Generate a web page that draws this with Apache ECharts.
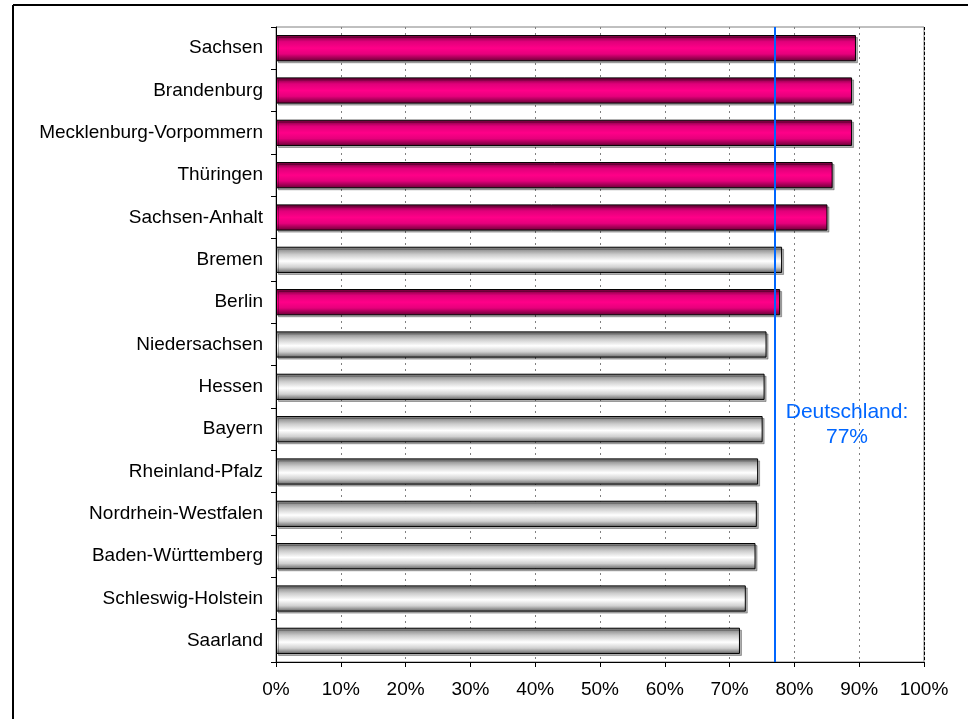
<!DOCTYPE html>
<html>
<head>
<meta charset="utf-8">
<script src="https://cdn.jsdelivr.net/npm/echarts@6/dist/echarts.min.js"></script>
<style>
html,body{margin:0;padding:0;background:#fff;}
#chart{width:968px;height:719px;}
</style>
</head>
<body>
<div id="chart"></div>
<script>
var categories = ['Sachsen','Brandenburg','Mecklenburg-Vorpommern','Thüringen','Sachsen-Anhalt','Bremen','Berlin','Niedersachsen','Hessen','Bayern','Rheinland-Pfalz','Nordrhein-Westfalen','Baden-Württemberg','Schleswig-Holstein','Saarland'];
var values = [89.5, 88.9, 88.9, 85.9, 85.1, 78.1, 77.8, 75.7, 75.4, 75.1, 74.4, 74.2, 74.0, 72.5, 71.6];
var eastStates = ['Sachsen','Brandenburg','Mecklenburg-Vorpommern','Thüringen','Sachsen-Anhalt','Berlin'];
var germanyValue = 77;
var germanyLabel = 'Deutschland:\n77%';

var pinkGrad = new echarts.graphic.LinearGradient(0,0,0,1,[
  {offset:0,color:'#660033'},
  {offset:0.25,color:'#e0007a'},
  {offset:0.5,color:'#ff0088'},
  {offset:0.72,color:'#e6007c'},
  {offset:1,color:'#660033'}
]);
var grayGrad = new echarts.graphic.LinearGradient(0,0,0,1,[
  {offset:0,color:'#707070'},
  {offset:0.3,color:'#cccccc'},
  {offset:0.55,color:'#ffffff'},
  {offset:0.78,color:'#d0d0d0'},
  {offset:1,color:'#606060'}
]);

var seriesData = categories.map(function(c,i){
  var east = eastStates.indexOf(c) >= 0;
  return {value: values[i], itemStyle:{color: east ? pinkGrad : grayGrad}};
});

var chart = echarts.init(document.getElementById('chart'));
chart.setOption({
  animation:false,
  backgroundColor:'#fff',
  grid:{left:276,right:44,top:27,bottom:57,show:true,borderColor:'#808080',borderWidth:1,backgroundColor:'transparent'},
  xAxis:{
    type:'value',min:0,max:100,interval:10,
    axisLine:{show:true,lineStyle:{color:'#000',width:1}},
    axisTick:{show:true,length:5,lineStyle:{color:'#000'}},
    axisLabel:{formatter:'{value}%',color:'#000',fontFamily:'Liberation Sans, Arial',fontSize:19,margin:18},
    splitLine:{show:true,lineStyle:{color:'#808080',type:[2,4],width:1}}
  },
  yAxis:{
    type:'category',data:categories,inverse:true,
    axisLine:{show:true,lineStyle:{color:'#000',width:1}},
    axisTick:{show:true,length:5,lineStyle:{color:'#000'}},
    axisLabel:{color:'#000',fontFamily:'Liberation Sans, Arial',fontSize:19,margin:13},
    splitLine:{show:false}
  },
  series:[{
    type:'bar',
    data:seriesData,
    barCategoryGap:'38%',
    itemStyle:{borderColor:'#000',borderWidth:1,shadowColor:'rgba(0,0,0,0.3)',shadowOffsetX:2,shadowOffsetY:2,shadowBlur:0},
    markLine:{
      silent:true,symbol:'none',label:{show:false},
      data:[
        {xAxis:100,lineStyle:{color:'#000',type:[3,2],width:1}},
        {xAxis:germanyValue,lineStyle:{color:'#0066ff',type:'solid',width:2}}
      ]
    },
    z:3
  }],
  graphic:[
    {type:'line',shape:{x1:13,y1:5,x2:968,y2:5},style:{stroke:'#000',lineWidth:2},silent:true},
    {type:'line',shape:{x1:13,y1:5,x2:13,y2:719},style:{stroke:'#000',lineWidth:2},silent:true},
    {type:'text',x:847,y:400,style:{text:germanyLabel,fill:'#0066ff',font:'21px "Liberation Sans", Arial',align:'center',verticalAlign:'top',lineHeight:25},silent:true,z:10}
  ]
});
</script>
</body>
</html>
